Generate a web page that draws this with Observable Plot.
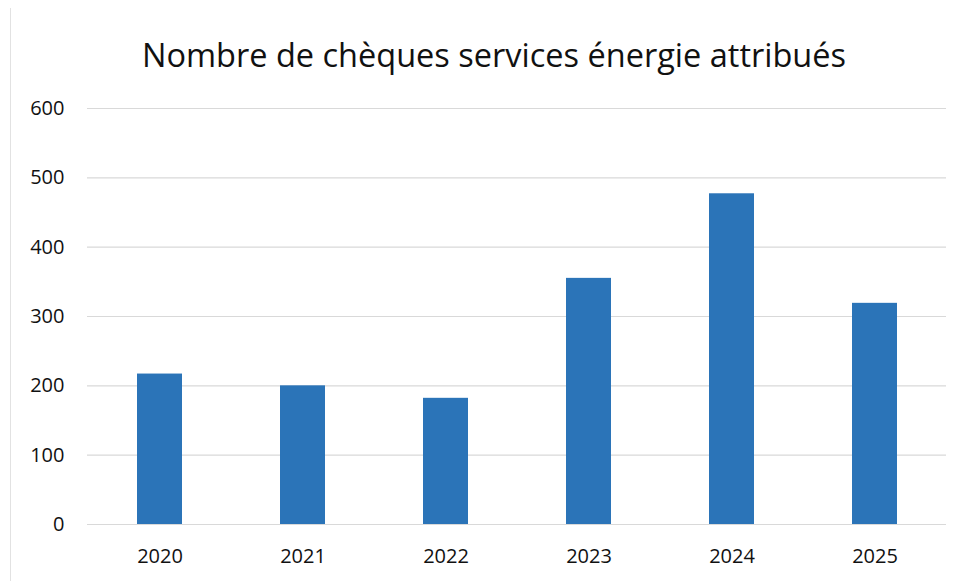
<!DOCTYPE html>
<html>
<head>
<meta charset="utf-8">
<script src="https://cdn.jsdelivr.net/npm/d3@7"></script>
<script src="https://cdn.jsdelivr.net/npm/@observablehq/plot@0.6"></script>
<style>
  html, body { margin: 0; padding: 0; background: #fff; }
  #wrap { width: 964px; height: 581px; position: relative; overflow: hidden; }
  #title {
    height: 85px; box-sizing: border-box; padding-top: 39px; padding-left: 24px;
    text-align: center; font-family: "Open Sans", sans-serif; font-size: 32.5px;
    line-height: 32px; color: #111; white-space: nowrap;
  }
  #frame { position: absolute; left: 10px; top: 8px; width: 1px; height: 573px; background: #e2e2e2; }
</style>
</head>
<body>
<div id="wrap">
  <div id="frame"></div>
  <div id="title">Nombre de chèques services énergie attribués</div>
  <div id="chart"></div>
</div>
<script>
const years = ["2020", "2021", "2022", "2023", "2024", "2025"];
const counts = [217, 200, 182, 355, 477, 319];
const yTicks = [0, 100, 200, 300, 400, 500, 600];

const data = years.map((y, i) => ({year: y, count: counts[i]}));

const chart = Plot.plot({
  width: 964,
  height: 496,
  marginTop: 23,
  marginBottom: 57,
  marginLeft: 87,
  marginRight: 18,
  style: {fontFamily: "'Open Sans', sans-serif", fontSize: "20px", color: "#111", background: "#fff"},
  x: {domain: years, paddingInner: 0.686, paddingOuter: 0.343, label: null, tickSize: 0, tickPadding: 24},
  y: {domain: [0, 600], ticks: yTicks, label: null, tickSize: 0, tickPadding: 23},
  marks: [
    Plot.ruleY(yTicks, {stroke: "#d9d9d9", strokeWidth: 1.2}),
    Plot.barY(data, {x: "year", y: "count", fill: "#2b74b8"})
  ]
});
document.getElementById("chart").appendChild(chart);
</script>
</body>
</html>
